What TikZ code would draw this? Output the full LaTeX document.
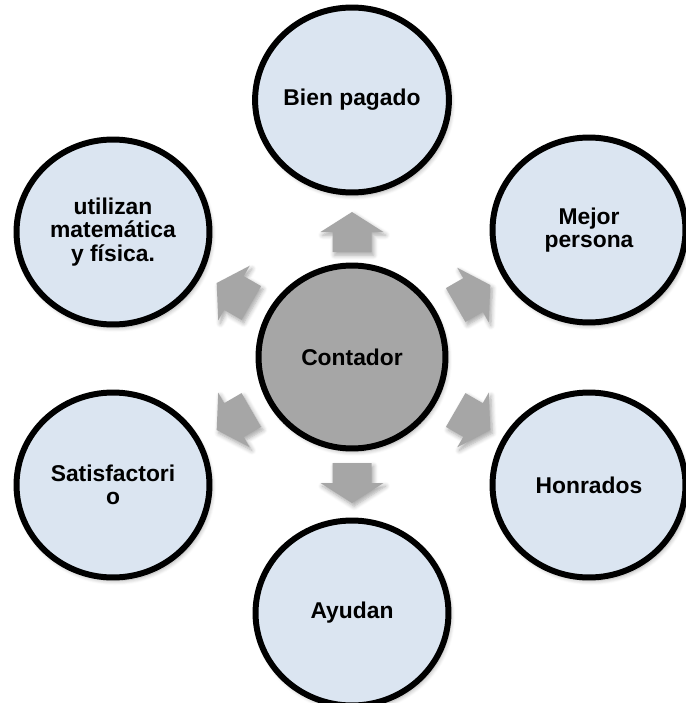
\documentclass[tikz,border=0pt]{standalone}
\usepackage{fontspec}
\setmainfont{Liberation Sans}
\usetikzlibrary{shapes.geometric,shadows.blur}

\definecolor{bubblefill}{HTML}{DBE5F1}
\definecolor{hubfill}{HTML}{A6A6A6}
\definecolor{arrowfill}{HTML}{A6A6A6}

\tikzset{
  x=0.02cm, y=0.02cm,
  softshadow/.style={blur shadow={shadow xshift=1.2pt, shadow yshift=-1.8pt,
      shadow blur steps=6, shadow blur radius=2.5pt, shadow opacity=35}},
  bubble/.style={ellipse, draw=black, line width=3.4pt, fill=bubblefill,
      minimum width=3.86cm, minimum height=3.70cm, inner sep=0pt, align=center,
      font=\fontsize{13}{13.2}\selectfont\bfseries, softshadow},
  hub/.style={bubble, fill=hubfill, minimum width=3.74cm, minimum height=3.66cm},
  blockarrow/.pic={
    \fill[arrowfill, softshadow]
      (-20,-19.5) -- (0,-19.5) -- (0,-31.5) -- (20,0) -- (0,31.5)
      -- (0,19.5) -- (-20,19.5) -- cycle;
  }
}

\begin{document}
\begin{tikzpicture}
  \useasboundingbox (0,0) rectangle (686,-703);
  \clip (0,0) rectangle (686,-703);

  % block arrows pointing outward from the hub
  \pic[rotate=90]  at (352,-232) {blockarrow};
  \pic[rotate=270] at (352,-483) {blockarrow};
  \pic[rotate=30]  at (473,-295) {blockarrow};
  \pic[rotate=150] at (234,-293) {blockarrow};
  \pic[rotate=210] at (234,-420) {blockarrow};
  \pic[rotate=330] at (473,-420) {blockarrow};

  % hub
  \node[hub] (hub) at (352,-357) {Contador};

  % surrounding bubbles
  \node[bubble] (pagado)   at (352,-100) {Bien pagado};
  \node[bubble] (persona)  at (589,-230) {Mejor\\persona};
  \node[bubble] (honrados) at (589,-485) {Honrados};
  \node[bubble] (ayudan)   at (352,-613) {Ayudan};
  \node[bubble] (satisf)   at (113,-485) {Satisfactori\\o};
  \node[bubble] (fisica)   at (113,-232) {utilizan\\matemática\\y física.};
\end{tikzpicture}
\end{document}
